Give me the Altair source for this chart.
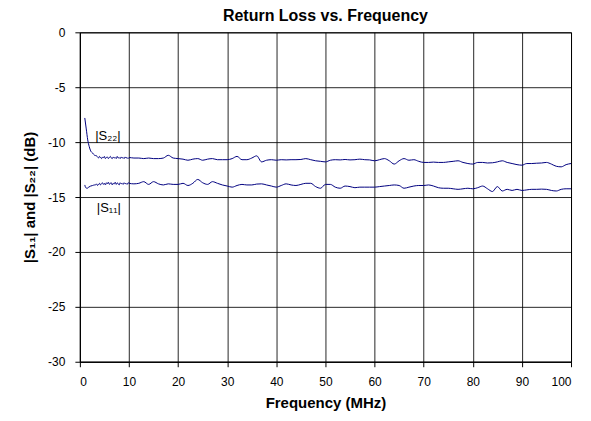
import altair as alt
import pandas as pd

FONT = "Arial, Liberation Sans, sans-serif"
NAVY = "#000080"

# |S22| low-frequency start
s22_low_f = [1.0, 1.3, 1.6, 1.9, 2.2, 2.6, 3.0, 3.4]
s22_low_v = [-7.8, -8.8, -9.8, -10.4, -10.8, -11.0, -11.2, -11.25]
# |S22| noisy section 3.6 .. 9.8 MHz
s22_noise_f = [round(3.6 + 0.2 * i, 1) for i in range(32)]
s22_noise_v = [-11.35, -11.45, -11.3, -11.4, -11.5, -11.35, -11.45, -11.3, -11.5, -11.4,
               -11.35, -11.5, -11.4, -11.3, -11.45, -11.5, -11.35, -11.45, -11.4, -11.5,
               -11.3, -11.45, -11.4, -11.5, -11.35, -11.45, -11.4, -11.5, -11.35, -11.45,
               -11.4, -11.5]

# |S11| low-frequency start
s11_low_f = [1.0, 1.2, 1.5, 1.8, 2.2, 2.6, 3.0]
s11_low_v = [-13.9, -14.15, -14.2, -14.1, -14.0, -13.95, -13.9]
# |S11| noisy section 3.2 .. 9.8 MHz
s11_noise_f = [round(3.2 + 0.2 * i, 1) for i in range(34)]
s11_noise_v = [-13.9, -13.8, -13.95, -13.85, -13.75, -13.9, -13.8, -13.7, -13.85, -13.75,
               -13.9, -13.7, -13.8, -13.65, -13.85, -13.75, -13.7, -13.9, -13.75, -13.8,
               -13.65, -13.85, -13.7, -13.8, -13.9, -13.7, -13.8, -13.75, -13.85, -13.7,
               -13.8, -13.75, -13.85, -13.7]

# 10 .. 100 MHz, 1 MHz steps
main_f = list(range(10, 101))
s22_main_v = [
    -11.4, -11.45, -11.45, -11.5, -11.45, -11.5, -11.5, -11.45, -11.2, -11.45,
    -11.5, -11.55, -11.65, -11.55, -11.5, -11.65, -11.55, -11.5, -11.6, -11.6,
    -11.6, -11.5, -11.3, -11.6, -11.6, -11.45, -11.25, -11.8, -11.65, -11.6,
    -11.65, -11.6, -11.62, -11.6, -11.6, -11.58, -11.5, -11.6, -11.7, -11.75,
    -11.8, -11.65, -11.6, -11.62, -11.58, -11.62, -11.6, -11.55, -11.6, -11.62,
    -11.7, -11.6, -11.5, -11.7, -12.0, -11.7, -11.5, -11.65, -11.6, -11.75,
    -11.85, -11.85, -11.82, -11.85, -11.85, -11.8, -11.75, -11.7, -11.85, -11.95,
    -12.0, -11.85, -11.85, -11.9, -11.88, -11.8, -11.7, -11.85, -11.95, -12.05,
    -12.1, -11.95, -11.95, -11.92, -11.9, -11.85, -12.0, -12.2, -12.25, -12.05,
    -11.95]
s11_main_v = [
    -13.75, -13.8, -13.75, -13.6, -13.85, -13.6, -13.8, -13.9, -13.8, -13.85,
    -13.85, -13.75, -13.95, -13.75, -13.4, -13.7, -13.85, -13.6, -13.75, -13.9,
    -14.0, -14.1, -13.95, -13.85, -13.9, -13.9, -13.82, -13.8, -13.9, -14.0,
    -14.1, -13.95, -13.8, -13.9, -13.95, -13.85, -13.75, -13.75, -14.05, -14.2,
    -13.85, -13.85, -14.1, -14.2, -14.0, -14.05, -14.15, -14.1, -14.1, -14.1,
    -14.1, -14.05, -14.0, -13.95, -13.9, -13.95, -14.2, -14.1, -14.0, -13.95,
    -13.95, -13.9, -14.0, -14.15, -14.2, -14.2, -14.25, -14.3, -14.25, -14.2,
    -14.25, -14.15, -14.0, -14.25, -14.5, -14.05, -14.45, -14.3, -14.4, -14.3,
    -14.4, -14.35, -14.3, -14.3, -14.28, -14.3, -14.4, -14.45, -14.3, -14.25,
    -14.25]

x_ticks = [0, 10, 20, 30, 40, 50, 60, 70, 80, 90, 100]
y_ticks = [0, -5, -10, -15, -20, -25, -30]

label_text = ["|S\u2082\u2082|", "|S\u2081\u2081|"]
label_x = [5.7, 5.9]
label_y = [-9.4, -16.0]

s22_f = s22_low_f + s22_noise_f + main_f
s22_v = s22_low_v + s22_noise_v + s22_main_v
s11_f = s11_low_f + s11_noise_f + main_f
s11_v = s11_low_v + s11_noise_v + s11_main_v

df = pd.concat([
    pd.DataFrame({"freq": s22_f, "db": s22_v, "series": "S22"}),
    pd.DataFrame({"freq": s11_f, "db": s11_v, "series": "S11"}),
], ignore_index=True)
labels = pd.DataFrame({"text": label_text, "freq": label_x, "db": label_y})

x_enc = alt.X("freq:Q", scale=alt.Scale(domain=[0, 100], nice=False),
              axis=alt.Axis(values=x_ticks, title="Frequency (MHz)", labelPadding=10,
                            titlePadding=8))
y_enc = alt.Y("db:Q", scale=alt.Scale(domain=[-30, 0], nice=False),
              axis=alt.Axis(values=y_ticks, title="|S\u2081\u2081| and |S\u2082\u2082|  (dB)",
                            labelExpr="'' + datum.value",
                            labelPadding=10, titlePadding=10))

lines = alt.Chart(df).mark_line(interpolate="monotone", strokeWidth=1, color=NAVY).encode(
    x=x_enc, y=y_enc, detail="series:N", order="freq:Q")

texts = alt.Chart(labels).mark_text(font=FONT, fontSize=13, color="black").encode(
    x="freq:Q", y="db:Q", text="text:N")

chart = (lines + texts).properties(
    width=492, height=330,
    background="white",
    autosize=alt.AutoSizeParams(type="none"),
    padding={"left": 72, "top": 24, "right": 12, "bottom": 55},
    title=alt.TitleParams("Return Loss vs. Frequency", font=FONT, fontSize=16,
                          fontWeight="bold", color="black", anchor="middle",
                          frame="group", offset=2),
).configure_axis(
    grid=True, gridColor="#000000", gridWidth=1, gridOpacity=0.85,
    domainColor="#000000", tickColor="#000000", tickSize=5,
    labelFont=FONT, labelFontSize=12, labelColor="black",
    titleFont=FONT, titleFontSize=15, titleFontWeight="bold", titleColor="black",
).configure_view(stroke="#000000", strokeWidth=1)

chart.save("out.html", embed_options={"renderer": "svg", "actions": False})
